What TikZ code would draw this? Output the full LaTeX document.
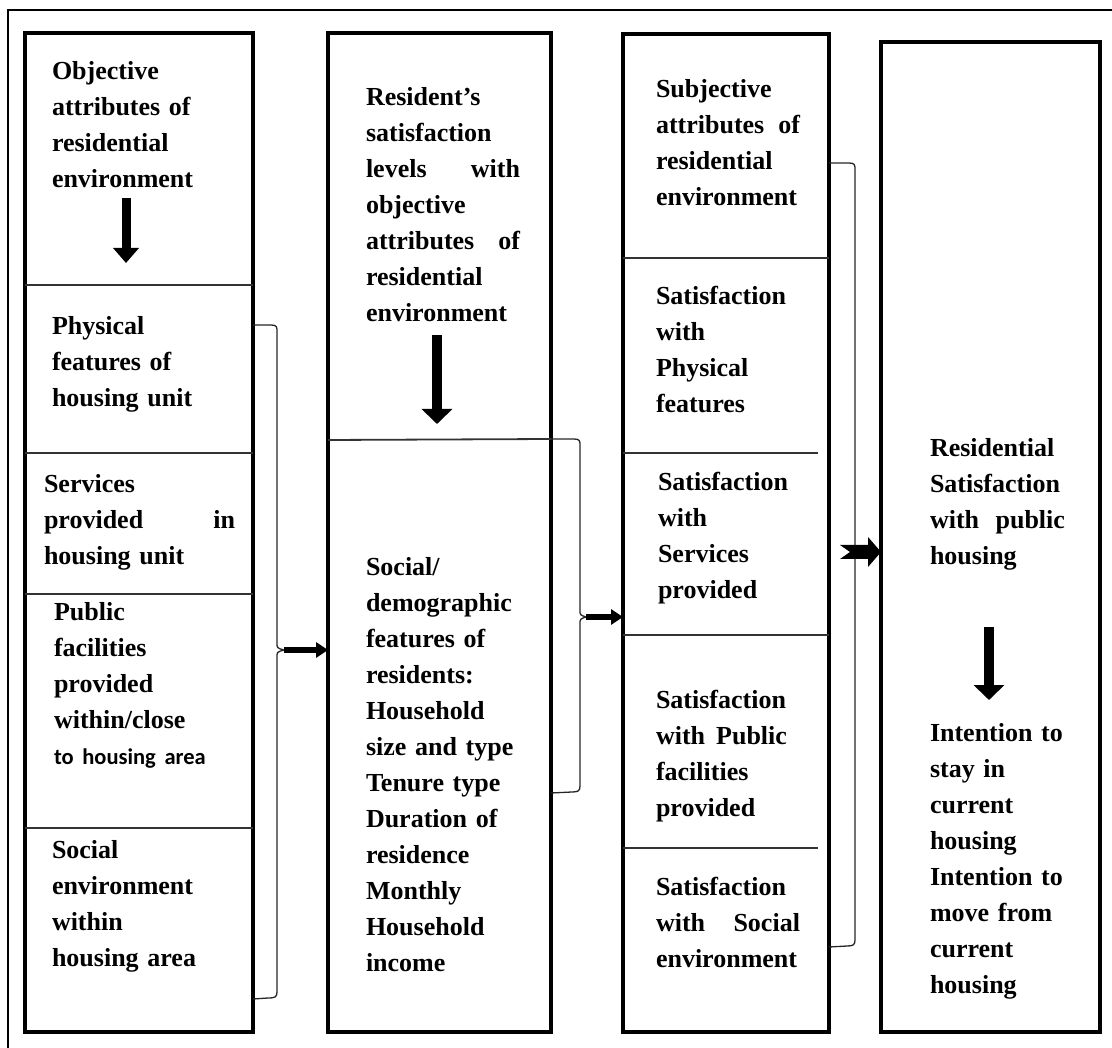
\documentclass[tikz,border=0pt]{standalone}
\usepackage{fontspec}
\setmainfont{Liberation Serif}
\newfontfamily\calib{Carlito}
\usetikzlibrary{arrows.meta}
\newcommand\jline[2]{\noindent\hbox to \linewidth{#1\hfill #2}}
\begin{document}
\begin{tikzpicture}[x=1pt,y=-1pt,
  box/.style={draw,line width=3.6pt,inner sep=0pt,outer sep=0pt,anchor=north west},
  divline/.style={line width=1.8pt,draw=black!80},
  bracket/.style={line width=1.3pt,draw=black!85},
  txt/.style={anchor=base west,inner sep=0pt,outer sep=0pt,align=left,font=\fontsize{26}{36}\selectfont\bfseries},
  downarrowa/.style={line width=9pt,-{Triangle[length=15pt,width=25pt]}},
  downarrowb/.style={line width=10pt,-{Triangle[length=15pt,width=30pt]}},
  sidearrow/.style={line width=5.5pt,-{Triangle[length=12pt,width=15pt]}},
]
\useasboundingbox (0,0) rectangle (1112,1048);
% outer frame (clipped by page)
\draw[line width=2pt] (8,1048) -- (8,10) -- (1112,10);

% boxes
\node[box,minimum width=228pt,minimum height=999pt] (b1) at (25,33) {};
\node[box,minimum width=223pt,minimum height=999pt] (b2) at (328,33) {};
\node[box,minimum width=206pt,minimum height=998pt] (b3) at (623,34) {};
\node[box,minimum width=219pt,minimum height=990pt] (b4) at (881,42) {};

% dividers box 1
\foreach \yy in {285,453,594,828}
  \draw[divline] (b1.west |- 0,\yy) -- (b1.east |- 0,\yy);
% divider box 2
\draw[divline] (b2.west |- 0,440) -- (b2.east |- 0,439);
% dividers box 3
\draw[divline] (b3.west |- 0,258) -- (b3.east |- 0,258);
\draw[divline] (b3.west |- 0,453) -- (818,453);
\draw[divline] (b3.west |- 0,635) -- (b3.east |- 0,635);
\draw[divline] (b3.west |- 0,848) -- (818,848);

% texts box 1
\node[txt,text width=190pt] (t1) at (52,80) {Objective\\attributes of\\residential\\environment};
\node[txt,text width=190pt] (t2) at (52,335) {Physical\\features of\\housing unit};
\node[txt,text width=191pt] (t3) at (44,493) {Services\\\jline{provided}{in}\\housing unit};
\node[txt,text width=190pt] (t4) at (54,620) {Public\\facilities\\provided\\within/close\\{\calib\bfseries\fontsize{22.5}{36}\selectfont to housing area}};
\node[txt,text width=190pt] (t5) at (52,858) {Social\\environment\\within\\housing area};

% texts box 2
\node[txt,text width=154pt] (t6) at (366,106) {Resident’s\\satisfaction\\\jline{levels}{with}\\objective\\\jline{attributes}{of}\\residential\\environment};
\node[txt,text width=175pt] (t7) at (366,576) {Social/\\demographic\\features of\\residents:\\Household\\size and type\\Tenure type\\Duration of\\residence\\Monthly\\Household\\income};

% texts box 3
\node[txt,text width=144pt] (t8) at (656,98) {Subjective\\\jline{attributes}{of}\\residential\\environment};
\node[txt,text width=150pt] (t9) at (656,305) {Satisfaction\\with\\Physical\\features};
\node[txt,text width=150pt] (t10) at (658,491) {Satisfaction\\with\\Services\\provided};
\node[txt,text width=131pt] (t11) at (656,708) {Satisfaction\\\jline{with}{Public}\\facilities\\provided};
\node[txt,text width=144pt] (t12) at (656,895) {Satisfaction\\\jline{with}{Social}\\environment};

% texts box 4
\node[txt,text width=135pt] (t13) at (930,457) {Residential\\Satisfaction\\\jline{with}{public}\\housing};
\node[txt,text width=150pt] (t14) at (930,741) {Intention to\\stay in\\current\\housing\\Intention to\\move from\\current\\housing};

% down arrows inside boxes
\coordinate (d1s) at (126,198); \coordinate (d1e) at (126,263);
\coordinate (d2s) at (437,335); \coordinate (d2e) at (437,424);
\coordinate (d3s) at (989,627); \coordinate (d3e) at (989,700);
\draw[downarrowa] (d1s) -- (d1e);
\draw[downarrowb] (d2s) -- (d2e);
\draw[downarrowb] (d3s) -- (d3e);

% bracket 1 (box 1 -> box 2)
\coordinate (k1) at (284,650);
\draw[bracket] (b1.east |- 0,325) -- (271,325) .. controls (277,325) and (277,327) .. (277,332)
  -- (277,643) .. controls (277,648) .. (k1) .. controls (277,652) .. (277,657)
  -- (277,992) .. controls (277,997) and (275,998) .. (268,998) -- (b1.east |- 0,999);
\draw[sidearrow] (k1) -- (b2.west |- k1);

% bracket 2 (box 2 -> box 3)
\coordinate (k2) at (586,617);
\draw[bracket] (b2.east |- 0,439) -- (574,439) .. controls (580,439) and (580,441) .. (580,446)
  -- (580,610) .. controls (580,615) .. (k2) .. controls (580,619) .. (580,624)
  -- (580,786) .. controls (580,791) and (578,792) .. (572,792) -- (b2.east |- 0,793);
\draw[sidearrow] (k2) -- (b3.west |- k2);

% bracket 3 (box 3 -> box 4)
\draw[bracket] (b3.east |- 0,163) -- (849,163) .. controls (855,163) and (855,165) .. (855,170)
  -- (855,940) .. controls (855,945) and (853,946) .. (847,946) -- (b3.east |- 0,947);
\coordinate (k3) at (840,552);
\fill (k3) ++(0,-7) -- (868,545) -- (868,537) -- (b4.west |- k3) -- (868,567) -- (868,559) -- (840,559) -- (850,552) -- cycle;
\end{tikzpicture}
\end{document}
